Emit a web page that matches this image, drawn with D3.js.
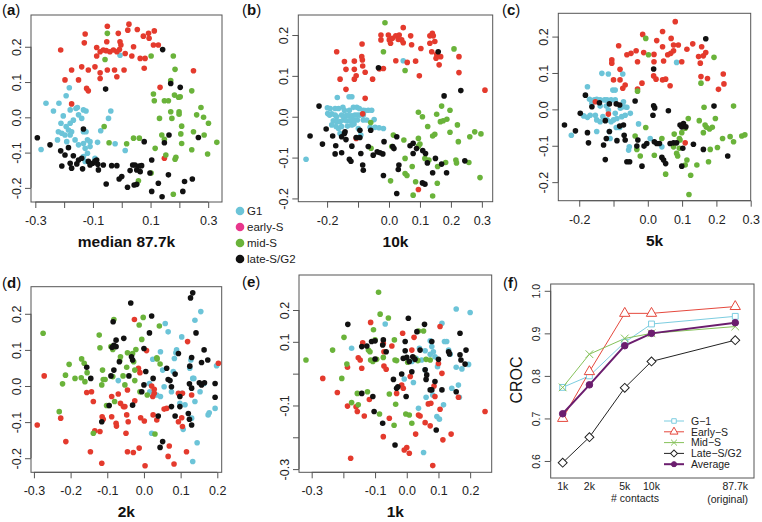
<!DOCTYPE html>
<html>
<head>
<meta charset="utf-8">
<script src="https://cdn.jsdelivr.net/npm/d3@7"></script>
<style>
body { margin: 0; background: #fff; }
svg { font-family: "Liberation Sans", Arial, sans-serif; }
</style>
</head>
<body>
<script>
// ---- scatter data: [x, y] per cell, one array per phase and panel ----
var aG1 = [[-0.006,0.176],[-0.263,0.040],[-0.237,0.018],[-0.218,0.040],[-0.182,0.084],[-0.193,0.061],[-0.179,0.021],[-0.159,0.025],[-0.154,0.028],[-0.150,0.007],[-0.139,-0.003],[-0.133,0.021],[-0.124,0.018],[-0.203,0.004],[-0.211,-0.017],[-0.193,-0.026],[-0.185,-0.036],[-0.174,-0.041],[-0.179,-0.017],[-0.168,-0.008],[-0.220,-0.041],[-0.208,-0.045],[-0.197,-0.050],[-0.179,-0.050],[-0.162,-0.064],[-0.191,-0.069],[-0.150,-0.078],[-0.223,-0.064],[-0.133,-0.041],[-0.124,-0.041],[-0.119,-0.064],[-0.133,-0.074],[-0.110,-0.069],[-0.127,-0.088],[-0.110,-0.083],[-0.119,-0.102],[-0.133,-0.111],[-0.127,-0.125],[-0.084,-0.071],[-0.073,-0.038],[-0.046,-0.003],[-0.038,0.018],[-0.280,-0.091],[-0.023,-0.075],[0.012,-0.094],[-0.093,-0.116]];
var aEarly = [[-0.212,0.191],[-0.127,0.236],[-0.130,0.211],[-0.050,0.258],[-0.052,0.214],[-0.012,0.238],[-0.006,0.214],[-0.003,0.205],[-0.008,0.192],[0.025,0.264],[0.021,0.247],[0.054,0.249],[0.075,0.230],[0.093,0.238],[0.095,0.224],[0.113,0.245],[-0.087,0.198],[-0.075,0.186],[-0.064,0.191],[-0.054,0.189],[-0.041,0.186],[-0.029,0.191],[-0.017,0.186],[0.110,0.205],[0.127,0.205],[0.041,0.200],[0.012,0.181],[0.035,0.174],[-0.139,0.143],[-0.116,0.134],[-0.093,0.143],[-0.087,0.174],[-0.075,0.126],[-0.075,0.110],[-0.050,0.134],[-0.025,0.134],[-0.017,0.115],[0.008,0.134],[0.078,0.139],[0.064,0.167],[0.081,0.167],[-0.174,0.134],[-0.197,0.106],[-0.150,0.106],[-0.122,0.082],[-0.116,0.075],[-0.174,0.038],[0.249,0.132],[0.133,0.085],[0.148,-0.116]];
var aMid = [[-0.050,0.238],[-0.058,0.164],[0.102,0.174],[0.179,0.174],[0.185,0.136],[0.170,0.104],[0.110,0.066],[0.113,0.047],[0.148,0.047],[0.162,0.047],[0.183,0.063],[0.197,0.057],[0.203,0.058],[0.243,0.075],[0.131,-0.003],[0.170,0.016],[0.174,-0.003],[0.199,0.016],[0.199,0.009],[0.208,-0.025],[0.260,0.007],[0.275,0.028],[0.284,0.000],[0.301,-0.017],[0.286,-0.050],[0.249,-0.041],[0.330,-0.071],[0.298,-0.104],[0.243,-0.092],[0.208,-0.074],[0.205,-0.047],[0.148,-0.062],[0.116,-0.088],[0.153,-0.107],[0.185,-0.119],[0.188,-0.113],[0.139,-0.050],[0.041,-0.059],[0.061,-0.059],[0.017,-0.075],[-0.044,-0.072],[-0.061,-0.026],[0.058,-0.180],[0.179,-0.218],[0.102,-0.158]];
var aLate = [[0.142,0.192],[-0.056,0.080],[0.170,0.096],[0.203,0.085],[-0.133,-0.033],[-0.293,-0.058],[-0.249,-0.078],[-0.212,-0.095],[-0.185,-0.086],[-0.197,-0.107],[-0.168,-0.109],[-0.150,-0.121],[-0.139,-0.116],[-0.156,-0.132],[-0.179,-0.130],[-0.208,-0.138],[-0.174,-0.144],[-0.136,-0.146],[-0.116,-0.125],[-0.101,-0.130],[-0.093,-0.124],[-0.087,-0.121],[-0.110,-0.135],[-0.083,-0.133],[-0.081,-0.149],[-0.064,-0.135],[-0.035,-0.137],[-0.017,-0.137],[-0.009,-0.175],[0.000,-0.168],[-0.054,-0.189],[0.020,-0.198],[0.029,-0.151],[0.038,-0.135],[0.046,-0.135],[0.052,-0.149],[0.061,-0.138],[0.064,-0.154],[0.069,-0.137],[0.043,-0.192],[0.052,-0.190],[0.078,-0.069],[0.104,-0.121],[0.098,-0.158],[0.104,-0.210],[0.127,-0.187],[0.140,-0.225],[0.148,-0.072],[0.164,-0.050],[0.162,-0.163],[0.218,-0.182],[0.212,-0.210],[0.245,-0.175],[0.266,-0.057]];

var bG1 = [[0.046,0.137],[-0.268,-0.104],[-0.167,0.047],[-0.199,0.022],[-0.190,0.020],[-0.174,0.020],[-0.163,0.020],[-0.149,0.023],[-0.144,0.016],[-0.129,0.049],[-0.120,0.049],[-0.115,0.023],[-0.104,0.023],[-0.128,0.016],[-0.096,0.020],[-0.083,0.016],[-0.077,0.015],[-0.067,0.016],[-0.056,0.016],[-0.198,0.008],[-0.192,0.004],[-0.185,0.007],[-0.174,0.004],[-0.169,0.000],[-0.153,0.004],[-0.144,0.000],[-0.137,0.004],[-0.128,0.002],[-0.120,0.002],[-0.110,0.004],[-0.102,0.004],[-0.094,0.004],[-0.083,0.004],[-0.180,-0.010],[-0.169,-0.012],[-0.158,-0.012],[-0.147,-0.008],[-0.137,-0.010],[-0.126,-0.010],[-0.115,-0.008],[-0.102,-0.008],[-0.083,-0.008],[-0.072,-0.008],[-0.048,-0.007],[-0.185,-0.020],[-0.171,-0.024],[-0.163,-0.029],[-0.153,-0.024],[-0.134,-0.023],[-0.120,-0.020],[-0.113,-0.018],[-0.099,-0.029],[-0.091,-0.045],[-0.061,-0.026],[-0.045,-0.026],[-0.032,-0.027],[-0.018,-0.029],[-0.158,-0.041]];
var bEarly = [[0.046,0.218],[-0.026,0.200],[-0.026,0.188],[-0.002,0.200],[0.001,0.188],[0.005,0.180],[0.011,0.192],[0.022,0.198],[0.033,0.200],[0.030,0.189],[0.041,0.188],[0.046,0.181],[0.070,0.198],[0.073,0.176],[0.103,0.167],[0.132,0.198],[0.140,0.204],[0.143,0.198],[0.132,0.180],[0.148,0.184],[0.138,0.159],[0.154,0.153],[0.152,0.143],[0.162,0.127],[0.167,0.147],[-0.169,0.159],[-0.158,0.092],[-0.144,0.135],[-0.139,0.116],[-0.112,0.136],[-0.112,0.116],[-0.112,0.092],[-0.106,0.100],[-0.087,0.178],[-0.088,0.147],[-0.086,0.139],[-0.085,0.124],[-0.077,0.109],[-0.053,0.092],[-0.031,0.117],[-0.018,0.118],[0.022,0.137],[0.059,0.133],[0.086,0.136],[0.098,0.100],[0.226,0.147],[0.226,0.108],[0.310,0.065],[-0.139,0.067],[-0.077,0.045],[-0.085,0.007],[-0.106,-0.053],[0.095,-0.178]];
var bMid = [[-0.013,0.230],[-0.018,0.159],[0.052,0.113],[0.210,0.166],[0.095,0.011],[0.108,0.000],[0.170,0.026],[0.197,0.016],[0.154,0.006],[0.166,-0.012],[0.175,-0.010],[0.187,-0.006],[0.125,-0.024],[0.141,-0.047],[0.148,-0.043],[0.197,-0.038],[0.221,-0.020],[0.261,-0.049],[0.277,-0.037],[0.297,-0.042],[0.224,-0.061],[0.095,-0.053],[0.100,-0.067],[0.014,-0.045],[0.048,-0.057],[0.052,-0.102],[0.009,-0.073],[-0.059,-0.014],[-0.058,-0.077],[0.116,-0.102],[0.129,-0.106],[0.157,-0.122],[0.183,-0.112],[0.216,-0.106],[0.218,-0.113],[0.258,-0.112],[0.294,-0.149],[0.052,-0.139],[0.058,-0.144],[0.075,-0.122],[0.005,-0.157],[0.086,-0.159],[0.078,-0.192],[0.141,-0.194],[0.156,-0.163],[0.095,-0.072]];
var bLate = [[0.159,0.159],[-0.034,0.120],[0.232,0.064],[0.178,0.051],[-0.226,0.026],[-0.255,-0.047],[-0.203,-0.030],[-0.182,-0.047],[-0.215,-0.067],[-0.172,-0.071],[-0.174,-0.091],[-0.153,-0.049],[-0.144,-0.041],[-0.142,-0.037],[-0.139,-0.056],[-0.153,-0.088],[-0.128,-0.104],[-0.123,-0.109],[-0.120,-0.072],[-0.106,-0.051],[-0.094,-0.033],[-0.094,-0.051],[-0.091,-0.090],[-0.085,-0.118],[-0.083,-0.131],[-0.067,-0.073],[-0.059,-0.033],[-0.051,-0.094],[-0.038,-0.086],[-0.029,-0.088],[-0.020,-0.091],[-0.016,-0.061],[-0.018,-0.144],[0.012,-0.073],[0.016,-0.078],[0.025,-0.049],[0.030,-0.129],[0.025,-0.188],[0.032,-0.118],[0.068,-0.071],[0.078,-0.065],[0.078,-0.090],[0.089,-0.078],[0.109,-0.083],[0.118,-0.090],[0.124,-0.113],[0.141,-0.137],[0.150,-0.102],[0.170,-0.116],[0.186,-0.137],[0.108,-0.162],[0.116,-0.165],[0.245,-0.108]];

var cG1 = [[0.084,0.129],[-0.134,0.099],[-0.115,0.097],[-0.073,0.097],[-0.102,0.053],[-0.095,0.053],[-0.176,0.062],[-0.170,0.028],[-0.163,0.017],[-0.156,0.026],[-0.149,0.028],[-0.139,0.026],[-0.126,0.026],[-0.119,0.026],[-0.107,0.026],[-0.095,0.026],[-0.071,0.021],[-0.069,0.007],[-0.139,0.009],[-0.121,0.009],[-0.115,-0.002],[-0.095,-0.011],[-0.080,0.003],[-0.061,0.006],[-0.187,-0.018],[-0.176,-0.022],[-0.168,-0.016],[-0.153,-0.016],[-0.149,-0.029],[-0.139,-0.034],[-0.131,-0.020],[-0.119,-0.029],[-0.107,-0.034],[-0.100,-0.029],[-0.090,-0.025],[-0.076,-0.020],[-0.066,-0.016],[-0.051,-0.011],[-0.027,-0.040],[-0.092,-0.050],[-0.082,-0.050],[-0.112,-0.061],[-0.110,-0.080],[-0.149,-0.061],[-0.223,-0.071],[-0.056,-0.112],[-0.054,-0.103],[0.007,-0.080],[0.041,-0.103]];
var cEarly = [[0.080,0.241],[-0.085,0.175],[-0.105,0.136],[-0.105,0.127],[-0.081,0.110],[-0.061,0.150],[-0.049,0.154],[-0.034,0.161],[-0.030,0.131],[-0.015,0.206],[-0.012,0.156],[0.018,0.151],[0.018,0.131],[0.026,0.189],[0.043,0.214],[0.043,0.172],[0.046,0.133],[0.058,0.150],[0.067,0.154],[0.068,0.195],[0.075,0.177],[0.075,0.161],[0.089,0.177],[0.114,0.165],[0.131,0.180],[0.148,0.145],[0.153,0.127],[0.157,0.172],[0.162,0.147],[0.169,0.156],[0.155,0.090],[0.174,0.085],[0.017,0.092],[0.024,0.083],[0.043,0.081],[0.052,0.083],[0.065,0.065],[-0.017,0.072],[-0.030,0.056],[-0.066,0.067],[-0.073,0.058],[-0.100,0.081],[-0.081,0.081],[0.206,0.055],[0.220,0.097],[0.222,0.070],[0.099,0.131],[-0.153,0.021],[-0.115,-0.013],[0.109,-0.092]];
var cMid = [[-0.006,0.195],[0.002,0.150],[-0.030,0.050],[0.155,0.072],[0.193,0.143],[0.094,-0.084],[0.118,-0.025],[0.109,-0.052],[0.099,-0.064],[0.077,-0.068],[0.092,-0.080],[0.150,-0.031],[0.164,0.006],[0.167,-0.043],[0.162,-0.064],[0.171,-0.049],[0.180,-0.054],[0.188,-0.049],[0.197,-0.025],[0.203,-0.105],[0.182,-0.110],[0.177,-0.144],[0.143,-0.153],[0.114,-0.139],[0.109,-0.153],[0.125,-0.181],[0.120,-0.234],[0.052,-0.178],[0.019,-0.126],[-0.022,-0.128],[-0.006,-0.050],[-0.032,-0.110],[-0.037,-0.073],[0.092,-0.107],[0.084,-0.121],[0.087,-0.128],[0.041,-0.080],[0.075,-0.103],[0.218,-0.080],[0.240,-0.075],[0.250,-0.089],[0.274,-0.073],[0.283,-0.070],[0.250,0.009]];
var cLate = [[0.169,0.194],[0.017,0.111],[0.017,0.010],[0.020,0.004],[-0.037,0.023],[0.060,-0.004],[0.193,0.009],[-0.243,-0.043],[-0.211,-0.059],[-0.182,0.039],[-0.197,-0.011],[-0.176,-0.064],[-0.173,-0.092],[-0.163,0.007],[-0.141,0.018],[-0.124,-0.031],[-0.129,-0.098],[-0.124,-0.138],[-0.121,-0.080],[-0.112,-0.061],[-0.112,0.015],[-0.092,0.015],[-0.082,-0.046],[-0.071,-0.043],[-0.069,-0.071],[-0.066,-0.084],[-0.090,-0.086],[-0.082,0.012],[-0.061,-0.144],[-0.053,-0.144],[-0.032,-0.101],[-0.029,-0.084],[-0.011,-0.101],[-0.003,-0.094],[-0.017,-0.156],[0.015,-0.016],[0.019,-0.089],[0.026,-0.094],[0.034,-0.094],[0.041,-0.132],[0.046,-0.139],[0.052,-0.149],[0.065,-0.094],[0.075,-0.092],[0.084,-0.092],[0.094,-0.043],[0.099,-0.048],[0.104,-0.039],[0.111,-0.048],[0.102,-0.107],[0.099,-0.156],[0.133,-0.096],[0.162,-0.110],[0.233,-0.128]];

var dG1 = [[-0.070,0.015],[0.015,0.007],[0.016,-0.016],[0.024,0.074],[0.045,0.095],[0.051,0.044],[0.055,-0.002],[0.058,0.173],[0.066,0.150],[0.080,0.040],[0.083,0.076],[0.087,0.092],[0.089,0.100],[0.098,-0.048],[0.103,-0.020],[0.103,0.136],[0.107,-0.120],[0.112,-0.052],[0.125,0.049],[0.130,-0.089],[0.133,0.021],[0.136,0.021],[0.139,-0.043],[0.139,0.182],[0.133,-0.209],[0.145,-0.157],[0.153,-0.016],[0.155,0.206],[0.164,0.007],[0.175,-0.080],[0.178,-0.074],[0.194,-0.062],[0.198,0.056],[0.045,-0.029],[0.075,-0.016],[0.035,-0.025],[0.021,-0.131],[0.128,0.072]];
var dEarly = [[-0.272,0.028],[-0.291,-0.108],[-0.227,-0.089],[-0.213,-0.154],[-0.156,-0.018],[-0.143,-0.016],[-0.138,-0.043],[-0.146,-0.182],[-0.134,-0.124],[-0.120,-0.126],[-0.115,-0.214],[-0.114,-0.085],[-0.111,-0.092],[-0.088,-0.029],[-0.088,-0.085],[-0.076,-0.103],[-0.075,-0.111],[-0.070,-0.022],[-0.064,-0.048],[-0.056,-0.057],[-0.052,-0.057],[-0.049,-0.131],[-0.047,-0.080],[-0.045,-0.011],[-0.045,-0.182],[-0.043,-0.099],[-0.029,-0.184],[-0.026,0.184],[-0.025,-0.041],[-0.015,0.049],[-0.013,-0.172],[-0.011,0.037],[-0.009,-0.088],[0.001,-0.097],[0.003,-0.221],[0.007,0.098],[0.021,0.000],[0.028,-0.009],[0.024,-0.029],[0.028,-0.020],[0.025,-0.080],[0.035,-0.094],[0.055,-0.064],[0.069,-0.166],[0.066,-0.195],[0.082,-0.216],[0.094,-0.099],[0.094,-0.020],[0.105,-0.020],[0.105,-0.112],[0.116,-0.182],[0.119,0.123],[0.130,-0.025],[0.203,0.063],[0.103,-0.088],[0.062,-0.062]];
var dMid = [[-0.275,0.146],[-0.231,-0.071],[-0.222,0.006],[-0.214,0.030],[-0.204,0.060],[-0.188,0.021],[-0.171,0.023],[-0.170,0.075],[-0.163,0.063],[-0.161,0.012],[-0.155,0.037],[-0.138,-0.131],[-0.122,0.141],[-0.120,0.106],[-0.115,0.003],[-0.113,0.044],[-0.111,0.018],[-0.106,0.018],[-0.102,-0.054],[-0.095,-0.054],[-0.090,0.109],[-0.085,0.026],[-0.085,0.101],[-0.082,0.184],[-0.080,-0.043],[-0.066,0.070],[-0.064,0.081],[-0.057,0.028],[-0.052,0.003],[-0.047,0.052],[-0.045,0.092],[-0.031,0.090],[-0.028,0.067],[-0.022,0.101],[-0.025,0.044],[-0.025,0.015],[-0.013,0.169],[-0.006,0.129],[-0.002,0.190],[0.009,-0.025],[0.030,-0.133],[0.035,0.078],[0.036,0.075],[0.042,0.166],[0.044,0.061],[-0.011,-0.016]];
var dLate = [[0.133,0.258],[0.127,0.244],[-0.036,0.230],[0.021,0.194],[-0.084,0.178],[0.015,0.147],[0.142,0.147],[-0.076,0.127],[-0.082,0.113],[-0.087,0.107],[-0.076,0.109],[-0.055,0.132],[-0.067,0.067],[-0.034,0.081],[-0.031,0.072],[0.000,0.104],[-0.082,0.044],[-0.090,0.028],[-0.156,0.052],[-0.145,0.021],[-0.041,0.028],[0.005,0.040],[0.000,0.003],[-0.006,-0.016],[-0.031,-0.053],[-0.095,-0.054],[-0.115,-0.099],[0.039,-0.083],[0.044,-0.170],[0.051,-0.154],[0.062,0.049],[0.071,0.015],[0.075,-0.002],[0.075,-0.057],[0.085,-0.083],[0.085,0.033],[0.094,0.090],[0.098,-0.029],[0.098,-0.057],[0.124,0.006],[0.130,-0.006],[0.130,0.079],[0.125,0.055],[0.130,-0.108],[0.124,-0.092],[0.157,0.065],[0.164,0.100],[0.174,0.072],[0.151,0.009],[0.157,0.003],[0.165,0.009],[0.194,0.007],[0.194,-0.031],[0.025,0.021],[0.066,0.018],[0.121,-0.076]];

var eG1 = [[-0.174,0.080],[-0.068,0.156],[-0.008,-0.017],[0.016,0.038],[0.021,-0.028],[0.037,-0.109],[0.029,0.048],[0.053,-0.248],[0.058,0.072],[0.058,0.012],[0.061,-0.074],[0.074,0.103],[0.079,0.085],[0.084,0.069],[0.082,-0.067],[0.089,0.053],[0.095,-0.135],[0.097,0.022],[0.103,-0.143],[0.111,0.158],[0.116,-0.098],[0.119,0.101],[0.126,0.101],[0.132,0.074],[0.137,0.061],[0.142,-0.046],[0.156,0.020],[0.156,0.203],[0.163,-0.036],[0.166,-0.074],[0.174,0.015],[0.200,0.192],[0.195,0.029],[0.074,0.061],[0.047,0.043],[0.040,0.080]];
var eEarly = [[-0.265,-0.015],[-0.219,-0.059],[-0.187,0.020],[-0.187,-0.102],[-0.160,-0.104],[-0.156,-0.119],[-0.153,0.050],[-0.147,0.043],[-0.139,0.097],[-0.134,-0.133],[-0.118,-0.081],[-0.114,0.161],[-0.074,0.095],[-0.072,0.069],[-0.072,0.024],[-0.065,0.014],[-0.055,-0.140],[-0.047,0.087],[-0.032,-0.062],[-0.016,-0.036],[-0.011,-0.046],[-0.008,-0.240],[-0.013,0.127],[0.000,-0.232],[0.008,-0.250],[0.011,-0.009],[0.016,0.074],[0.023,0.114],[0.028,-0.190],[0.037,-0.130],[0.042,-0.133],[0.058,-0.154],[0.068,-0.095],[0.074,-0.164],[0.076,-0.093],[0.082,-0.289],[0.086,-0.039],[0.089,-0.072],[0.100,0.032],[0.105,-0.112],[0.105,0.148],[0.111,0.001],[0.114,-0.208],[0.140,-0.190],[0.163,-0.074],[0.247,-0.119],[-0.177,-0.266],[-0.074,-0.198],[-0.142,0.017]];
var eMid = [[-0.318,0.043],[-0.234,0.074],[-0.198,0.114],[-0.189,0.030],[-0.205,-0.015],[-0.174,-0.091],[-0.156,-0.062],[-0.153,-0.098],[-0.124,-0.057],[-0.121,0.074],[-0.116,0.069],[-0.114,0.043],[-0.107,0.038],[-0.105,0.138],[-0.100,0.106],[-0.095,0.045],[-0.089,0.256],[-0.084,0.187],[-0.086,-0.127],[-0.074,0.051],[-0.058,0.175],[-0.055,-0.064],[-0.040,-0.162],[-0.039,0.106],[-0.037,0.043],[-0.035,-0.096],[-0.032,0.041],[-0.003,-0.127],[0.008,-0.130],[0.016,-0.156],[0.023,0.050],[0.035,0.041],[0.037,0.134],[0.053,0.134],[0.061,0.045],[0.074,0.043],[0.003,0.036]];
var eLate = [[-0.186,0.155],[-0.142,0.085],[-0.126,0.087],[-0.111,0.101],[-0.100,0.103],[-0.100,0.046],[-0.074,0.106],[-0.076,0.090],[-0.065,0.069],[-0.042,-0.018],[-0.032,-0.046],[-0.028,-0.041],[-0.016,-0.001],[-0.011,0.048],[-0.005,0.101],[-0.005,0.072],[0.000,0.051],[0.005,0.174],[0.008,0.038],[0.016,0.006],[0.019,0.053],[0.026,0.045],[0.032,0.132],[0.042,0.074],[0.056,0.155],[0.058,0.012],[0.061,-0.018],[0.063,-0.004],[0.074,-0.051],[0.079,-0.051],[0.079,0.101],[0.089,-0.025],[0.093,-0.177],[0.100,0.045],[0.111,-0.051],[0.132,0.069],[0.135,0.062],[0.168,0.127],[0.168,0.059],[0.171,0.043],[0.184,0.030],[0.187,0.074],[0.156,-0.057],[-0.142,-0.062],[-0.107,-0.072],[-0.103,-0.119],[-0.076,-0.156],[-0.037,-0.224],[-0.002,-0.072]];

// ---- tick values and labels ----
var aXTicks = [-0.3,-0.2,-0.1,0,0.1,0.2,0.3], aXLabels = ["-0.3","","-0.1","","0.1","","0.3"];
var bXTicks = [-0.2,-0.1,0,0.1,0.2,0.3],     bXLabels = ["-0.2","","0.0","0.1","0.2","0.3"];
var cXTicks = [-0.2,-0.1,0,0.1,0.2,0.3],     cXLabels = ["-0.2","","0.0","0.1","0.2","0.3"];
var dXTicks = [-0.3,-0.2,-0.1,0,0.1,0.2],    dXLabels = ["-0.3","-0.2","-0.1","0.0","0.1","0.2"];
var eXTicks = [-0.3,-0.2,-0.1,0,0.1,0.2],    eXLabels = ["-0.3","","-0.1","0.0","0.1","0.2"];
var yTicks = [-0.2,-0.1,0,0.1,0.2],          yLabels = ["-0.2","-0.1","0.0","0.1","0.2"];
var eYTicks = [-0.3,-0.2,-0.1,0,0.1,0.2],    eYLabels = ["-0.3","","-0.1","","0.1","0.2"];

// ---- panel (f): CROC by number of contacts ----
var contacts = [1, 2, 5, 10, 87.7];
var contactLabels = [["1k"], ["2k"], ["5k"], ["10k"], ["87.7k", "(original)"]];
var g1Croc    = [0.773, 0.800, 0.879, 0.922, 0.940];
var earlyCroc = [0.700, 0.810, 0.947, 0.947, 0.963];
var midCroc   = [0.773, 0.851, 0.888, 0.900, 0.916];
var lateCroc  = [0.596, 0.656, 0.772, 0.834, 0.884];
var avgCroc   = [0.711, 0.779, 0.871, 0.900, 0.925];
var crocTicks = [0.6, 0.7, 0.8, 0.9, 1.0], crocLabels = ["0.6","0.7","0.8","0.9","1.0"];

var phaseNames = ["G1", "early-S", "mid-S", "late-S/G2"];
var phaseColors = ["#6cc4d8", "#e43a2d", "#6ab33a", "#111111"];
var legendColors = ["#6cc4d8", "#e8368c", "#6ab33a", "#111111"];

var svg = d3.select("body").append("svg")
    .attr("width", 762)
    .attr("height", 522);

var axisColor = "#555";
var textColor = "#222";

function panelLabel(x, y, letter) {
    var t = svg.append("text").attr("x", x).attr("y", y)
        .attr("font-size", "15px").attr("fill", "#111");
    t.append("tspan").text("(");
    t.append("tspan").attr("font-weight", "bold").text(letter);
    t.append("tspan").text(")");
}

function styleAxis(ax) {
    ax.attr("font-family", null).attr("font-size", null);
    ax.select(".domain").remove();
    ax.selectAll("line").attr("stroke", axisColor);
}

function drawScatter(p) {
    var x = d3.scaleLinear().domain(p.xDom).range([p.box[0], p.box[2]]);
    var y = d3.scaleLinear().domain(p.yDom).range([p.box[3], p.box[1]]);
    var g = svg.append("g");

    g.append("rect")
        .attr("x", p.box[0]).attr("y", p.box[1])
        .attr("width", p.box[2] - p.box[0]).attr("height", p.box[3] - p.box[1])
        .attr("fill", "none").attr("stroke", axisColor);

    p.series.forEach(function (s, i) {
        g.append("g").selectAll("circle")
            .data(s)
            .enter().append("circle")
            .attr("cx", function (d) { return x(d[0]); })
            .attr("cy", function (d) { return y(d[1]); })
            .attr("r", 2.8)
            .attr("fill", phaseColors[i]);
    });

    var xa = g.append("g")
        .attr("transform", "translate(0," + p.box[3] + ")")
        .call(d3.axisBottom(x).tickValues(p.xTicks)
            .tickFormat(function (d, i) { return p.xLabels[i]; })
            .tickSize(6).tickPadding(8));
    styleAxis(xa);
    xa.append("line")
        .attr("x1", x(p.xTicks[0])).attr("x2", x(p.xTicks[p.xTicks.length - 1]))
        .attr("stroke", axisColor);
    xa.selectAll("text").attr("font-size", "12.5px").attr("fill", textColor);

    var ya = g.append("g")
        .attr("transform", "translate(" + p.box[0] + ",0)")
        .call(d3.axisLeft(y).tickValues(p.yTicks)
            .tickFormat(function (d, i) { return p.yLabels[i]; })
            .tickSize(6));
    styleAxis(ya);
    ya.append("line")
        .attr("y1", y(p.yTicks[0])).attr("y2", y(p.yTicks[p.yTicks.length - 1]))
        .attr("stroke", axisColor);
    ya.selectAll("text")
        .attr("x", null).attr("dy", null)
        .attr("transform", "translate(-10,0) rotate(-90)")
        .attr("text-anchor", "middle")
        .attr("font-size", "12.5px").attr("fill", textColor);

    g.append("text")
        .attr("x", (p.box[0] + p.box[2]) / 2).attr("y", p.box[3] + 45)
        .attr("text-anchor", "middle")
        .attr("font-size", "15.5px").attr("font-weight", "bold").attr("fill", "#111")
        .text(p.title);

    panelLabel(p.labelPos[0], p.labelPos[1], p.label);
}

var scatterPanels = [
    { label: "a", title: "median 87.7k", series: [aG1, aEarly, aMid, aLate],
      box: [31, 15, 222, 202], xDom: [-0.315, 0.348], yDom: [-0.240, 0.290],
      xTicks: aXTicks, xLabels: aXLabels, yTicks: yTicks, yLabels: yLabels, labelPos: [2, 15] },
    { label: "b", title: "10k", series: [bG1, bEarly, bMid, bLate],
      box: [298.3, 15, 492.7, 201.7], xDom: [-0.293, 0.335], yDom: [-0.208, 0.249],
      xTicks: bXTicks, xLabels: bXLabels, yTicks: yTicks, yLabels: yLabels, labelPos: [242, 15] },
    { label: "c", title: "5k", series: [cG1, cEarly, cMid, cLate],
      box: [558.3, 13.3, 750.7, 200.7], xDom: [-0.261, 0.300], yDom: [-0.251, 0.264],
      xTicks: cXTicks, xLabels: cXLabels, yTicks: yTicks, yLabels: yLabels, labelPos: [502, 15] },
    { label: "d", title: "2k", series: [dG1, dEarly, dMid, dLate],
      box: [31, 286.7, 221.7, 472.3], xDom: [-0.308, 0.212], yDom: [-0.239, 0.275],
      xTicks: dXTicks, xLabels: dXLabels, yTicks: yTicks, yLabels: yLabels, labelPos: [2, 288] },
    { label: "e", title: "1k", series: [eG1, eEarly, eMid, eLate],
      box: [299, 275, 491.7, 472.3], xDom: [-0.340, 0.268], yDom: [-0.310, 0.310],
      xTicks: eXTicks, xLabels: eXLabels, yTicks: eYTicks, yLabels: eYLabels, labelPos: [242, 287] }
];
scatterPanels.forEach(drawScatter);

// ---- phase legend between (a) and (b) ----
var leg = svg.append("g");
phaseNames.forEach(function (name, i) {
    var yy = 211 + i * 16;
    leg.append("circle").attr("cx", 240).attr("cy", yy).attr("r", 4.3).attr("fill", legendColors[i]);
    leg.append("text").attr("x", 247).attr("y", yy).attr("dy", "0.36em")
        .attr("font-size", "11.5px").attr("fill", textColor).text(name);
});

// ---- panel (f) ----
var fBox = [550.7, 284, 754, 478];
var fx = d3.scaleLog().domain([0.733, 142.6]).range([fBox[0], fBox[2]]);
var fy = d3.scaleLinear().domain([0.560, 1.016]).range([fBox[3], fBox[1]]);
var fg = svg.append("g");

fg.append("rect")
    .attr("x", fBox[0]).attr("y", fBox[1])
    .attr("width", fBox[2] - fBox[0]).attr("height", fBox[3] - fBox[1])
    .attr("fill", "none").attr("stroke", axisColor);

var fya = fg.append("g")
    .attr("transform", "translate(" + fBox[0] + ",0)")
    .call(d3.axisLeft(fy).tickValues(crocTicks)
        .tickFormat(function (d, i) { return crocLabels[i]; }).tickSize(6));
styleAxis(fya);
fya.append("line").attr("y1", fy(crocTicks[0])).attr("y2", fy(crocTicks[crocTicks.length - 1]))
    .attr("stroke", axisColor);
fya.selectAll("text")
    .attr("x", null).attr("dy", null)
    .attr("transform", "translate(-11,0) rotate(-90)")
    .attr("text-anchor", "middle")
    .attr("font-size", "10.5px").attr("fill", textColor);

// x labels (no tick marks in the original)
contacts.forEach(function (c, i) {
    var lines = contactLabels[i];
    var first = fg.append("text").attr("x", fx(c)).attr("y", 489.5)
        .attr("text-anchor", "middle").attr("font-size", "10.5px").attr("fill", textColor)
        .text(lines[0]);
    if (lines.length > 1) {
        var w = first.node().getComputedTextLength();
        fg.append("text").attr("x", fx(c) + w / 2).attr("y", 502.5)
            .attr("text-anchor", "end").attr("font-size", "10.5px").attr("fill", textColor)
            .text(lines[1]);
    }
});
fg.append("text").attr("x", 635).attr("y", 502).attr("text-anchor", "middle")
    .attr("font-size", "10.5px").attr("fill", textColor).text("# contacts");
fg.append("text").attr("transform", "translate(522,380) rotate(-90)")
    .attr("text-anchor", "middle").attr("font-size", "16px").attr("fill", "#111").text("CROC");

var crocSeries = [
    { name: "G\u22121", values: g1Croc, color: "#7ccde0", symbol: d3.symbolSquare, size: 34, fill: "#fff", rot: 0, width: 1 },
    { name: "Early\u2212S", values: earlyCroc, color: "#e5483d", symbol: d3.symbolTriangle, size: 46, fill: "#fff", rot: 0, width: 1 },
    { name: "Mid\u2212S", values: midCroc, color: "#86c25a", symbol: d3.symbolTimes || d3.symbolX, size: 40, fill: "none", rot: 0, width: 1 },
    { name: "Late\u2212S/G2", values: lateCroc, color: "#222", symbol: d3.symbolSquare, size: 40, fill: "#fff", rot: 45, width: 1 },
    { name: "Average", values: avgCroc, color: "#6b1d6e", symbol: d3.symbolCircle, size: 34, fill: "#6b1d6e", rot: 0, width: 2 }
];

var fLine = d3.line()
    .x(function (d, i) { return fx(contacts[i]); })
    .y(function (d) { return fy(d); });

crocSeries.forEach(function (s) {
    fg.append("path").datum(s.values)
        .attr("fill", "none").attr("stroke", s.color).attr("stroke-width", s.width)
        .attr("d", fLine);
});
crocSeries.forEach(function (s) {
    fg.append("g").selectAll("path")
        .data(s.values)
        .enter().append("path")
        .attr("transform", function (d, i) {
            return "translate(" + fx(contacts[i]) + "," + fy(d) + ") rotate(" + s.rot + ")";
        })
        .attr("d", d3.symbol().type(s.symbol).size(s.size))
        .attr("fill", s.fill).attr("stroke", s.color).attr("stroke-width", 1);
});

// legend of (f)
crocSeries.forEach(function (s, i) {
    var yy = 421 + i * 10.8;
    fg.append("line").attr("x1", 664).attr("x2", 684).attr("y1", yy).attr("y2", yy)
        .attr("stroke", s.color).attr("stroke-width", s.width);
    fg.append("path")
        .attr("transform", "translate(674," + yy + ") rotate(" + s.rot + ")")
        .attr("d", d3.symbol().type(s.symbol).size(s.size * 0.6))
        .attr("fill", s.fill).attr("stroke", s.color).attr("stroke-width", 1);
    fg.append("text").attr("x", 691).attr("y", yy).attr("dy", "0.36em")
        .attr("font-size", "10.5px").attr("fill", textColor).text(s.name);
});

panelLabel(503, 288, "f");
</script>
</body>
</html>
